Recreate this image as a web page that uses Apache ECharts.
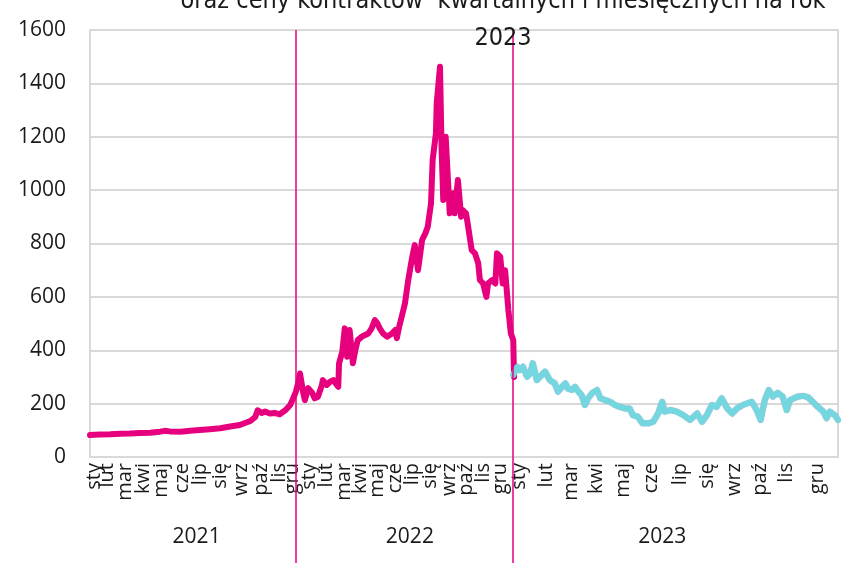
<!DOCTYPE html>
<html>
<head>
<meta charset="utf-8">
<script src="https://cdn.jsdelivr.net/npm/echarts@6/dist/echarts.min.js"></script>
<style>
  html, body { margin: 0; padding: 0; background: #fff; }
  #chart { width: 851px; height: 563px; }
</style>
</head>
<body>
<div id="chart"></div>
<script>
// nazwy miesięcy i pozycje etykiet (indeks notowania)
const monthNames = ['sty', 'lut', 'mar', 'kwi', 'maj', 'cze', 'lip', 'się', 'wrz', 'paź', 'lis', 'gru'];
const monthTickIdx = [
  5, 21, 43, 66, 87, 113, 135, 160, 186, 211, 232, 248,
  270, 290, 313, 332, 353, 375, 396, 418, 441, 462, 483, 504,
  527, 561, 591, 622, 655, 690, 725, 758, 792, 824, 856, 893
];
const years = ['2021', '2022', '2023'];
const yearLabelIdx = [131, 393, 703];
const yearBreakIdx = [253, 520];
const idxMax = 919;

// notowania SPOT 2021-2022
const spotIdx = [0, 12, 25, 37, 49, 61, 74, 86, 92, 98, 111, 123, 135, 147, 160, 172, 184, 197, 203, 206, 211, 215, 221, 227, 233, 240, 246, 249, 253,
  256, 258, 262, 264, 268, 273, 276, 280, 285, 286, 291, 295, 299, 305, 306, 310, 311, 313, 316, 319, 323, 326, 329, 334, 338, 342, 346, 350, 353, 356,
  360, 365, 371, 375, 377, 380, 383, 387, 391, 396, 399, 403, 408, 412, 415, 419, 421, 425, 426, 430, 432, 434, 437, 440, 442, 446, 448, 452, 456, 458,
  462, 464, 469, 473, 477, 479, 483, 487, 489, 494, 498, 500, 504, 507, 510, 514, 517, 520, 521];
const spotVal = [82, 84, 85, 87, 88, 90, 91, 95, 98, 96, 95, 98, 101, 104, 108, 114, 120, 135, 150, 175, 165, 170, 163, 165, 160, 175, 195, 215, 245,
  280, 313, 240, 213, 258, 240, 220, 226, 270, 288, 270, 282, 288, 263, 351, 395, 401, 482, 376, 476, 351, 401, 438, 451, 457, 463, 482, 513, 501, 482,
  463, 451, 463, 476, 445, 490, 526, 576, 663, 751, 794, 700, 813, 838, 863, 951, 1113, 1213, 1326, 1462, 1150, 963, 1200, 1025, 913, 988, 913, 1038, 900, 925,
  913, 875, 775, 763, 726, 663, 650, 600, 650, 663, 650, 763, 751, 650, 700, 551, 464, 438, 300];

// kontrakty kwartalne i miesięczne na 2023
const fwdIdx = [520, 525, 528, 532, 537, 541, 544, 549, 553, 559, 565, 571, 575, 580, 584, 587, 592, 596, 600, 604, 608, 612, 617, 623, 627, 633, 639,
  645, 651, 657, 663, 667, 673, 679, 686, 692, 698, 703, 706, 713, 721, 729, 737, 746, 752, 758, 764, 770, 776, 783, 789, 795, 802, 813, 819, 824,
  829, 834, 839, 845, 851, 856, 860, 869, 876, 882, 888, 894, 901, 905, 909, 915, 919];
const fwdVal = [307, 338, 326, 338, 301, 313, 351, 288, 301, 320, 288, 276, 245, 263, 276, 257, 251, 263, 245, 232, 195, 220, 240, 251, 220, 213, 207,
  195, 188, 182, 182, 157, 151, 126, 126, 132, 163, 207, 170, 176, 170, 157, 139, 163, 132, 157, 195, 188, 220, 182, 163, 182, 195, 207, 176, 139,
  213, 251, 226, 240, 226, 176, 213, 226, 229, 224, 207, 188, 170, 145, 170, 157, 139];

const yMax = 1600;
const yStep = 200;

const monthLabel = {};
monthTickIdx.forEach((v, i) => { monthLabel[v] = monthNames[i % 12]; });
const yearLabel = {};
yearLabelIdx.forEach((v, i) => { yearLabel[v] = years[i]; });

const zip = (xs, ys) => xs.map((x, i) => [x, ys[i]]);

const txt = '#1a1a1a';
const font = "'Open Sans', 'Noto Sans', sans-serif";

let myChart = echarts.init(document.getElementById('chart'));
let option = {
  animation: false,
  title: {
    text: 'oraz ceny kontraktów  kwartalnych i miesięcznych na rok\n2023',
    left: 503,
    top: -17,
    padding: 0,
    textAlign: 'center',
    textStyle: {
      fontFamily: "'Liberation Sans Narrow', 'DejaVu Sans Condensed', Roboto, sans-serif",
      fontSize: 25,
      fontWeight: 'normal',
      color: txt,
      lineHeight: 37
    }
  },
  grid: [
    { left: 90, right: 13, top: 30, bottom: 106, show: true, borderColor: '#d9d9d9', borderWidth: 2 },
    { left: 90, right: 13, top: 30, bottom: 0 }
  ],
  xAxis: [
    {
      type: 'value', gridIndex: 0, min: 0, max: idxMax, interval: 1,
      axisLine: { show: true, lineStyle: { color: '#d9d9d9', width: 2 } },
      axisTick: { show: false },
      splitLine: { show: false },
      axisLabel: {
        rotate: 90, margin: 6, fontSize: 20, color: txt, fontFamily: font,
        showMinLabel: true, showMaxLabel: true,
        formatter: v => monthLabel[v] || ''
      }
    },
    {
      type: 'value', gridIndex: 0, min: 0, max: idxMax, interval: 1,
      position: 'bottom', offset: 62,
      axisLine: { show: false }, axisTick: { show: false }, splitLine: { show: false },
      axisLabel: {
        margin: 8, fontSize: 21, color: txt, fontFamily: font,
        formatter: v => yearLabel[v] || ''
      }
    },
    {
      type: 'value', gridIndex: 1, min: 0, max: idxMax, show: false
    }
  ],
  yAxis: [
    {
      type: 'value', gridIndex: 0, min: 0, max: yMax, interval: yStep,
      axisLine: { show: false }, axisTick: { show: false },
      splitLine: { lineStyle: { color: '#d9d9d9', width: 2 } },
      axisLabel: { margin: 24, fontSize: 21, color: txt, fontFamily: font, formatter: v => String(v) }
    },
    { type: 'value', gridIndex: 1, min: 0, max: 1, show: false }
  ],
  series: [
    {
      type: 'line', xAxisIndex: 2, yAxisIndex: 1, data: [],
      silent: true,
      markLine: {
        silent: true, symbol: 'none', label: { show: false },
        lineStyle: { color: '#e6007e', width: 1.5, type: 'solid' },
        data: yearBreakIdx.map(v => ({ xAxis: v }))
      }
    },
    {
      name: 'SPOT', type: 'line', xAxisIndex: 0, yAxisIndex: 0,
      data: zip(spotIdx, spotVal), showSymbol: false, z: 3,
      lineStyle: { color: '#e6007e', width: 6, cap: 'round', join: 'round' },
      itemStyle: { color: '#e6007e' }
    },
    {
      name: 'kontrakty 2023', type: 'line', xAxisIndex: 0, yAxisIndex: 0,
      data: zip(fwdIdx, fwdVal), showSymbol: false, z: 4,
      lineStyle: { color: '#74d7df', width: 6, cap: 'round', join: 'round',
        shadowColor: 'rgba(110,90,160,0.55)', shadowBlur: 1 },
      itemStyle: { color: '#74d7df' }
    }
  ]
};
myChart.setOption(option);
</script>
</body>
</html>
